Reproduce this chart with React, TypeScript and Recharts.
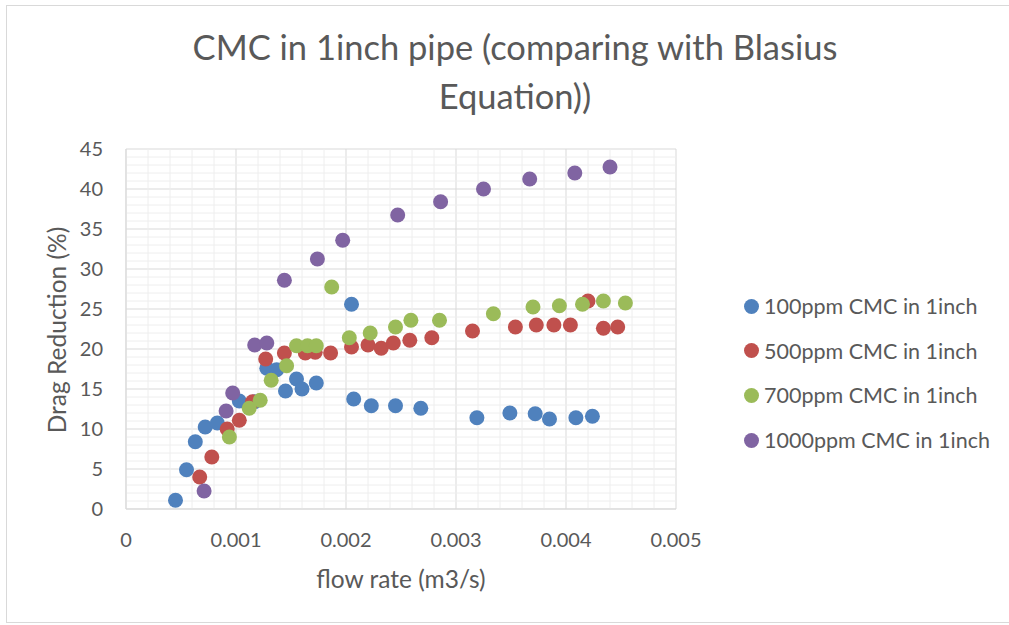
import React from 'react';
import { ScatterChart, Scatter, XAxis, YAxis, CartesianGrid, ReferenceLine } from 'recharts';

const seriesNames = [
  '100ppm CMC in 1inch',
  '500ppm CMC in 1inch',
  '700ppm CMC in 1inch',
  '1000ppm CMC in 1inch',
];
const seriesColors = ['#4f81bd', '#c0504d', '#9bbb59', '#8064a2'];

const flow100 = [0.00045, 0.00055, 0.00063, 0.00072, 0.00083, 0.00103, 0.00117, 0.00128, 0.00137, 0.00145, 0.00155, 0.0016, 0.00173, 0.00205, 0.00207, 0.00223, 0.00245, 0.00268, 0.00319, 0.00349, 0.00372, 0.00385, 0.00409, 0.00424];
const dr100 = [1.1, 4.9, 8.4, 10.25, 10.75, 13.5, 13.4, 17.6, 17.4, 14.75, 16.25, 15.0, 15.75, 25.6, 13.75, 12.9, 12.9, 12.6, 11.4, 12.0, 11.9, 11.25, 11.4, 11.6];

const flow500 = [0.00067, 0.00078, 0.00092, 0.00103, 0.00115, 0.00127, 0.00144, 0.00163, 0.00172, 0.00186, 0.00205, 0.0022, 0.00232, 0.00243, 0.00258, 0.00278, 0.00315, 0.00354, 0.00373, 0.00389, 0.00404, 0.0042, 0.00434, 0.00447];
const dr500 = [4.0, 6.5, 10.0, 11.1, 13.4, 18.75, 19.5, 19.5, 19.6, 19.5, 20.25, 20.5, 20.1, 20.75, 21.1, 21.4, 22.25, 22.75, 23.0, 23.0, 23.0, 26.0, 22.6, 22.75];

const flow700 = [0.00094, 0.00112, 0.00122, 0.00132, 0.00146, 0.00155, 0.00165, 0.00173, 0.00187, 0.00203, 0.00222, 0.00245, 0.00259, 0.00285, 0.00334, 0.0037, 0.00394, 0.00415, 0.00434, 0.00454];
const dr700 = [9.0, 12.6, 13.6, 16.1, 17.9, 20.4, 20.4, 20.4, 27.75, 21.4, 22.0, 22.75, 23.6, 23.6, 24.4, 25.25, 25.4, 25.6, 26.0, 25.75];

const flow1000 = [0.00071, 0.00091, 0.00097, 0.00117, 0.00128, 0.00144, 0.00174, 0.00197, 0.00247, 0.00286, 0.00325, 0.00367, 0.00408, 0.0044];
const dr1000 = [2.25, 12.25, 14.5, 20.5, 20.75, 28.6, 31.25, 33.6, 36.75, 38.4, 40.0, 41.25, 42.0, 42.75];

const xTicks = [0, 0.001, 0.002, 0.003, 0.004, 0.005];
const yTicks = [0, 5, 10, 15, 20, 25, 30, 35, 40, 45];
// minor gridlines between the major ones: x every 0.0002, y every 1
const xMinor = Array.from({ length: 26 }, (_, i) => i).filter((i) => i % 5 !== 0).map((i) => +(i * 0.0002).toFixed(4));
const yMinor = Array.from({ length: 46 }, (_, i) => i).filter((i) => i % 5 !== 0);

const toPoints = (xs: number[], ys: number[]) => xs.map((x, i) => ({ x, y: ys[i] }));
const series = [
  toPoints(flow100, dr100),
  toPoints(flow500, dr500),
  toPoints(flow700, dr700),
  toPoints(flow1000, dr1000),
];

const FONT = 'Lato, "Open Sans", sans-serif';
const TEXT = '#595959';
const MINOR = '#eeeeee';

const dot = (color: string) => (props: any) =>
  <circle cx={props.cx} cy={props.cy} r={7.5} fill={color} />;

export default function App() {
  return (
    <div style={{ position: 'absolute', left: 0, top: 0, width: 1009, height: 625, background: '#fff', fontFamily: FONT, overflow: 'hidden' }}>
      <div style={{ position: 'absolute', left: 6, top: 5, width: 1010, height: 616, border: '1px solid #d9d9d9' }} />
      <div style={{ position: 'absolute', left: 0, width: 1030, top: 22, textAlign: 'center', fontSize: 34.5, color: TEXT, lineHeight: '49px' }}>
        CMC in 1inch pipe (comparing with Blasius<br />Equation))
      </div>
      <ScatterChart width={1009} height={625} margin={{ top: 149, right: 333, bottom: 86, left: 66 }} style={{ position: 'absolute', left: 0, top: 0 }}>
        {xMinor.map((v) => <ReferenceLine key={'mx' + v} x={v} stroke={MINOR} strokeWidth={1} />)}
        {yMinor.map((v) => <ReferenceLine key={'my' + v} y={v} stroke={MINOR} strokeWidth={1} />)}
        <CartesianGrid stroke="#d9d9d9" />
        <XAxis type="number" dataKey="x" domain={[0, 0.005]} ticks={xTicks} allowDataOverflow
          axisLine={{ stroke: '#d9d9d9' }} tickLine={false} tickSize={0} tickMargin={24} height={30}
          tick={{ fill: TEXT, fontSize: 20, fontFamily: FONT }} />
        <YAxis type="number" dataKey="y" domain={[0, 45]} ticks={yTicks} allowDataOverflow
          axisLine={{ stroke: '#d9d9d9' }} tickLine={false} tickSize={0} tickMargin={23} width={60}
          tick={{ fill: TEXT, fontSize: 20, fontFamily: FONT }} />
        {series.map((pts, i) => (
          <Scatter key={seriesNames[i]} name={seriesNames[i]} data={pts} fill={seriesColors[i]}
            shape={dot(seriesColors[i])} isAnimationActive={false} />
        ))}
      </ScatterChart>
      <div style={{ position: 'absolute', left: 0, width: 802, top: 564, textAlign: 'center', fontSize: 24.5, color: TEXT }}>
        flow rate (m3/s)
      </div>
      <div style={{ position: 'absolute', left: 56, top: 330, transform: 'translate(-50%, -50%) rotate(-90deg)', whiteSpace: 'nowrap', fontSize: 24.5, color: TEXT }}>
        Drag Reduction (%)
      </div>
      {seriesNames.map((name, i) => (
        <div key={name} style={{ position: 'absolute', left: 744, top: 306 + i * 44.7 - 15, height: 30, display: 'flex', alignItems: 'center', whiteSpace: 'nowrap' }}>
          <span style={{ display: 'inline-block', width: 15, height: 15, borderRadius: '50%', background: seriesColors[i], marginRight: 5 }} />
          <span style={{ fontSize: 21.5, color: TEXT }}>{name}</span>
        </div>
      ))}
    </div>
  );
}
